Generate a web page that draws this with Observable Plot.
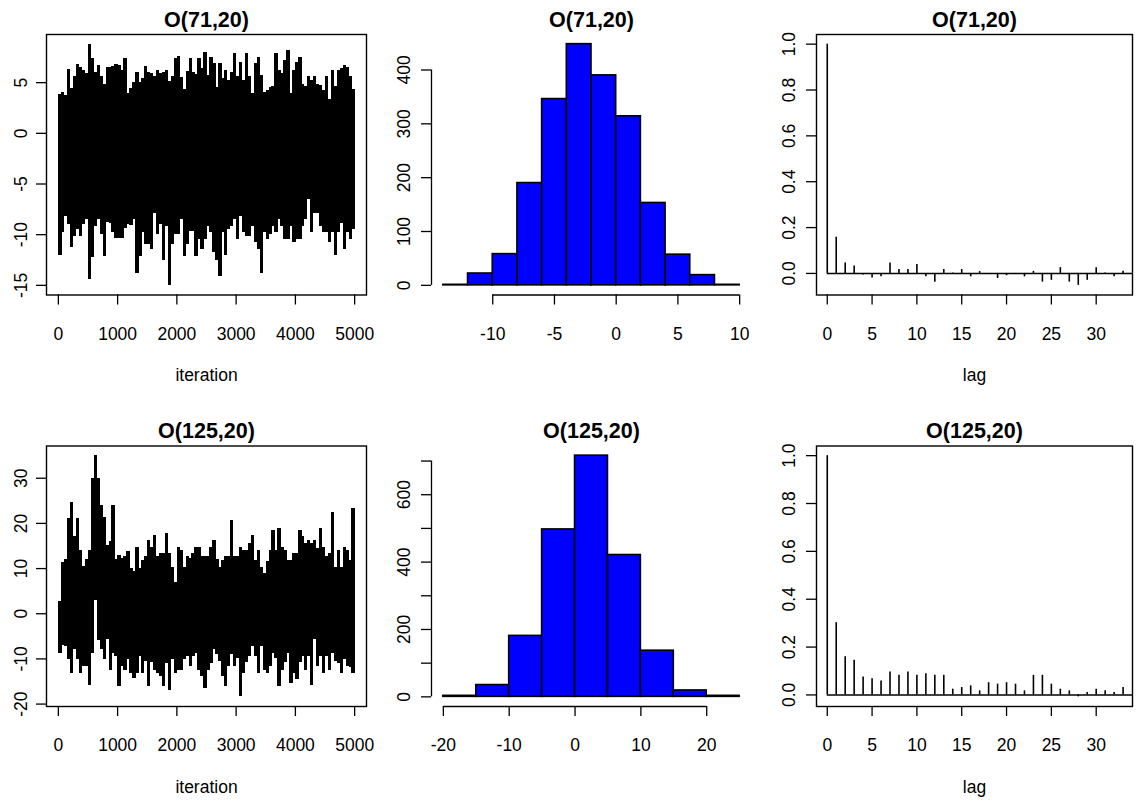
<!DOCTYPE html>
<html><head><meta charset="utf-8">
<script src="https://cdn.jsdelivr.net/npm/d3@7"></script>
<script src="https://cdn.jsdelivr.net/npm/@observablehq/plot@0.6"></script>
<style>
body{margin:0;background:#fff;}
#fig{position:relative;width:1141px;height:801px;background:#fff;}
#fig svg{position:absolute;overflow:visible;}
</style></head><body><div id="fig"></div>
<script>
// ---------------- data ----------------
const titles = ["O(71,20)", "O(125,20)"];
const binSize = 50; // iterations per envelope bin of the trace
// trace envelope (max / min per 50 iterations)
const hi71 = [3.8,4.0,3.7,6.3,4.4,5.6,6.8,6.5,6.2,5.9, 8.8,7.4,6.0,6.7,5.6,4.8,6.5,6.5,6.6,6.8,
  6.7,6.2,7.4,3.9,4.4,5.0,6.0,5.0,5.4,6.6, 6.0,5.9,5.6,6.2,5.9,6.0,6.2,5.1,5.6,7.4,
  7.6,5.5,4.3,6.1,7.4,6.0,5.8,7.4,6.4,8.0, 5.7,7.5,6.9,4.5,6.9,5.4,6.2,5.2,6.0,7.85,
  5.6,7.0,5.2,7.85,5.6,3.9,6.9,7.5,5.7,4.0, 4.2,4.5,4.6,7.85,6.2,5.9,7.2,8.2,3.9,6.2,
  7.0,7.5,4.8,4.6,5.6,5.2,5.6,4.8,4.75,4.25, 5.6,3.3,6.2,4.6,6.2,6.4,6.7,6.5,5.6,4.3];
const lo71 = [-12.1,-9.8,-8.2,-9.0,-11.3,-10.2,-9.5,-10.2,-9.0,-8.5, -14.4,-12.3,-9.2,-8.5,-10.0,-12.2,-8.8,-8.9,-9.8,-10.4,
  -10.4,-10.4,-9.4,-9.0,-9.1,-8.5,-13.8,-12.2,-9.8,-11.0, -11.0,-11.5,-7.9,-10.0,-9.0,-12.5,-9.2,-15.0,-11.0,-10.0,
  -10.0,-8.5,-12.2,-11.0,-9.7,-9.7,-12.2,-10.5,-11.5,-10.5, -9.2,-9.8,-11.8,-12.5,-14.1,-9.8,-12.1,-9.5,-9.2,-8.5,
  -10.5,-8.2,-9.8,-10.2,-10.2,-9.2,-10.8,-11.5,-13.8,-9.8, -10.5,-10.0,-9.2,-9.8,-8.5,-9.2,-10.5,-10.5,-9.2,-10.8,
  -10.5,-10.5,-9.2,-8.5,-6.5,-9.8,-7.9,-7.9,-9.2,-9.8, -9.8,-10.8,-9.8,-12.1,-9.8,-8.85,-11.5,-9.8,-10.5,-9.5];
const hi125 = [2.8,11.3,12.0,21.0,24.7,17.0,21.0,14.0,10.5,12.0, 14.0,30.0,35.0,30.0,24.0,21.3,15.0,16.0,23.9,12.0,
  12.9,12.2,12.6,13.7,10.0,9.3,14.7,10.0,11.8,12.6, 16.2,14.7,17.3,12.6,13.3,13.3,17.7,13.3,10.3,7.0,
  14.7,14.0,10.3,12.6,12.2,13.3,14.7,14.7,12.6,12.6, 12.6,14.7,16.2,12.0,10.3,11.8,12.6,12.6,20.6,12.6,
  12.6,14.7,14.0,14.0,15.5,17.3,11.8,14.0,10.3,8.9, 11.5,14.0,18.4,14.0,18.8,14.7,14.0,11.8,11.8,13.3,
  13.3,18.4,17.0,15.5,16.2,15.5,16.2,14.5,18.8,14.7, 12.6,13.3,22.5,10.3,14.0,10.3,14.7,14.0,11.8,23.2];
const lo125 = [-8.8,-7.0,-7.3,-10.2,-13.2,-8.0,-10.2,-13.2,-11.7,-11.7, -15.8,-8.8,3.0,-6.0,-8.0,-10.2,-5.8,-12.5,-8.8,-9.5,
  -16.2,-11.7,-12.5,-10.2,-13.2,-14.3,-13.2,-9.5,-13.2,-10.5, -16.2,-10.9,-12.5,-13.2,-13.9,-16.2,-11.0,-16.9,-10.2,-13.2,
  -12.5,-12.5,-10.2,-9.5,-11.7,-9.5,-8.8,-12.5,-14.0,-16.6, -12.5,-11.0,-8.0,-9.0,-10.5,-14.0,-16.2,-11.7,-9.0,-11.7,
  -10.0,-18.4,-13.2,-10.9,-9.5,-7.3,-9.5,-13.2,-7.3,-12.5, -13.2,-11.7,-8.8,-10.0,-16.2,-12.5,-10.9,-8.8,-15.5,-13.2,
  -14.6,-10.9,-9.5,-12.5,-9.5,-15.8,-5.8,-11.7,-9.5,-13.2, -9.5,-12.5,-8.8,-10.5,-11.0,-13.2,-10.2,-11.7,-12.0,-13.2];

// histograms
const breaks71 = [-14,-12,-10,-8,-6,-4,-2,0,2,4,6,8,10];
const counts71 = [1,22,58,190,346,448,390,314,153,57,19,1];
const breaks125 = [-20,-15,-10,-5,0,5,10,15,20,25];
const counts125 = [3,35,181,497,716,421,137,19,3];

// autocorrelations
const lags = [0,1,2,3,4,5,6,7,8,9,10,11,12,13,14,15,16,17,18,19,20,21,22,23,24,25,26,27,28,29,30,31,32,33];
const acf71 = [1.0,0.158,0.046,0.032,-0.007,-0.02,-0.015,0.046,0.017,0.017,0.039,-0.015,-0.038,0.017,0.002,0.017,-0.015,
  0.008,0.0,-0.022,-0.01,-0.004,-0.015,0.009,-0.038,-0.03,0.025,-0.038,-0.052,-0.03,0.025,0.002,-0.015,0.01];
const acf125 = [1.0,0.302,0.16,0.145,0.075,0.068,0.058,0.096,0.082,0.096,0.082,0.089,0.082,0.082,0.024,0.031,0.038,
  0.017,0.051,0.045,0.051,0.045,0.017,0.082,0.082,0.045,0.024,0.017,-0.008,0.01,0.024,0.017,0.01,0.031];

// tick values
const traceTicksX = [0,1000,2000,3000,4000,5000];
const traceTicksY71 = [-15,-10,-5,0,5];
const traceTicksY125 = [-20,-10,0,10,20,30];
const histTicksX71 = [-10,-5,0,5,10];
const histTicksY71 = [0,100,200,300,400];
const histLabelsY71 = [0,100,200,300,400];
const histTicksX125 = [-20,-10,0,10,20];
const histTicksY125 = [0,100,200,300,400,500,600,700];
const histLabelsY125 = [0,200,400,600];
const acfTicksX = [0,5,10,15,20,25,30];
const acfTicksY = [0,0.2,0.4,0.6,0.8,1.0];

// ---------------- helpers ----------------
const FONT = "'Liberation Sans', Arial, Helvetica, sans-serif";
const fig = document.getElementById("fig");
function ext(lo, hi) { const d = (hi - lo) * 0.04; return [lo - d, hi + d]; }
function binRows(hi, lo) { return hi.map((h, k) => ({it: k * binSize + binSize / 2, hi: h, lo: lo[k]})); }
function histRows(br, ct) { return ct.map((c, i) => ({x0: br[i], x1: br[i + 1], n: c})); }
function acfRows(r) { return lags.map((l, i) => ({lag: l, r: r[i]})); }

function panel(o) {
  const marks = [...o.marks];
  if (o.boxed) marks.push(Plot.frame({stroke: "black", strokeWidth: 1.4}));
  marks.push(Plot.axisX(o.xTicks, {anchor: "bottom", tickSize: 10, tickPadding: 22.5, tickFormat: d => String(d),
    fontSize: 17.5, label: null, strokeWidth: 1.3}));
  marks.push(Plot.axisY(o.yTicks, {anchor: "left", tickSize: 10, fill: "none", label: null, strokeWidth: 1.3}));
  marks.push(Plot.text(o.yLabels, {y: d => d, text: o.yFmt, frameAnchor: "left", dx: o.ydx, rotate: -90,
    textAnchor: "middle", lineAnchor: "bottom", fontSize: 17.5}));
  marks.push(Plot.text([o.title], {frameAnchor: "top", dy: -8, text: d => d, fontSize: 21.5, fontWeight: "bold", lineAnchor: "bottom"}));
  if (o.xlabel) marks.push(Plot.text([o.xlabel], {frameAnchor: "bottom", dy: 86, text: d => d, fontSize: 17.5, lineAnchor: "bottom"}));
  const svg = Plot.plot({
    width: o.width, height: o.height,
    marginLeft: o.ml, marginRight: o.width - o.ml - o.pw, marginTop: o.mt, marginBottom: o.height - o.mt - o.ph,
    x: {domain: o.xDomain, axis: null}, y: {domain: o.yDomain, axis: null},
    style: {fontFamily: FONT, background: "transparent", color: "black", overflow: "visible"},
    marks
  });
  svg.style.left = o.left + "px";
  svg.style.top = o.top + "px";
  fig.appendChild(svg);
}

const rows = [
  {top: 0, height: 400, mt: 34, ph: 260.5, title: titles[0], hi: hi71, lo: lo71, tY: traceTicksY71,
   br: breaks71, ct: counts71, hX: histTicksX71, hY: histTicksY71, hL: histLabelsY71, acf: acf71},
  {top: 400, height: 401, mt: 45.5, ph: 260.5, title: titles[1], hi: hi125, lo: lo125, tY: traceTicksY125,
   br: breaks125, ct: counts125, hX: histTicksX125, hY: histTicksY125, hL: histLabelsY125, acf: acf125}
];

rows.forEach(R => {
  // trace plot: each 50-iteration stretch of the chain drawn as its vertical extent
  const tmin = d3.min(R.lo), tmax = d3.max(R.hi);
  panel({left: 0, top: R.top, width: 380, height: R.height, ml: 46, pw: 320, mt: R.mt, ph: R.ph,
    xDomain: [-200, 5200], yDomain: ext(tmin, tmax), boxed: true,
    xTicks: traceTicksX, yTicks: R.tY, yLabels: R.tY, yFmt: d => String(d), ydx: -20,
    title: R.title, xlabel: "iteration",
    marks: [
      Plot.ruleX(binRows(R.hi, R.lo), {x: "it", y1: "lo", y2: "hi", stroke: "black", strokeWidth: 3.4, shapeRendering: "crispEdges"})
    ]});

  // histogram
  const hb = R.br;
  const hxDom = ext(hb[0], hb[hb.length - 1]);
  const hyDom = ext(0, d3.max(R.ct));
  panel({left: 380, top: R.top, width: 380, height: R.height, ml: 51, pw: 320, mt: R.mt, ph: R.ph,
    xDomain: hxDom, yDomain: hyDom, boxed: false,
    xTicks: R.hX, yTicks: R.hY, yLabels: R.hL, yFmt: d => String(d), ydx: -22,
    title: R.title, xlabel: null,
    marks: [
      Plot.rect(histRows(hb, R.ct), {x1: "x0", x2: "x1", y1: 0, y2: "n", fill: "#0000ff", stroke: "black", strokeWidth: 1.6}),
      Plot.ruleY([hyDom[0]], {x1: R.hX[0], x2: R.hX[R.hX.length - 1], stroke: "black", strokeWidth: 1.3}),
      Plot.ruleX([hxDom[0]], {y1: R.hY[0], y2: R.hY[R.hY.length - 1], stroke: "black", strokeWidth: 1.3})
    ]});

  // autocorrelation
  const aDom = ext(d3.min(R.acf), d3.max(R.acf));
  panel({left: 760, top: R.top, width: 381, height: R.height, ml: 56, pw: 316, mt: R.mt, ph: R.ph,
    xDomain: [-1.2, 34.05], yDomain: aDom, boxed: true,
    xTicks: acfTicksX, yTicks: acfTicksY, yLabels: acfTicksY, yFmt: d => d.toFixed(1), ydx: -22,
    title: R.title, xlabel: "lag",
    marks: [
      Plot.ruleY([0], {x1: 0, x2: 34.05, stroke: "black", strokeWidth: 1.5}),
      Plot.ruleX(acfRows(R.acf), {x: "lag", y1: 0, y2: "r", stroke: "black", strokeWidth: 1.6})
    ]});
});
</script></body></html>
